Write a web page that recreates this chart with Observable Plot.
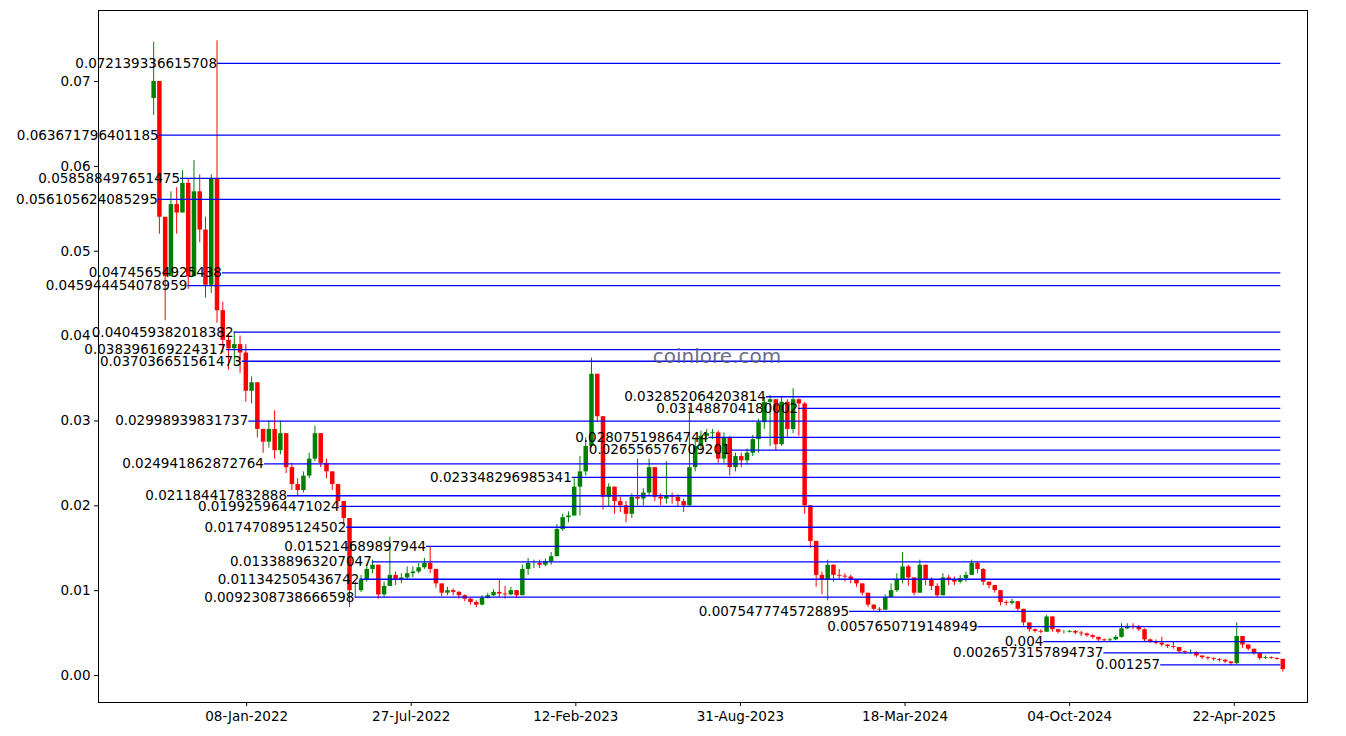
<!DOCTYPE html>
<html>
<head>
<meta charset="utf-8">
<script src="https://cdn.jsdelivr.net/npm/d3@7"></script>
<script src="https://cdn.jsdelivr.net/npm/@observablehq/plot@0.6"></script>
<style>
  html, body { margin: 0; padding: 0; background: #fff; }
  #chart { width: 1346px; height: 736px; }
  svg { font-family: "DejaVu Sans", sans-serif; }
</style>
</head>
<body>
<div id="chart"></div>
<script>
// ---- Data (weekly candles) ----
const firstDate = "2021-09-17";
const firstOpen = 0.0680;
const closes = [
  0.0700,0.0540,0.0470,0.0555,0.0545,0.0580,0.0470,0.0570,0.0525,0.0460,
  0.0585,0.0430,0.0395,0.0385,0.0390,0.0380,0.0335,0.0345,0.0290,0.0275,
  0.0290,0.0265,0.0285,0.0245,0.0225,0.0218,0.0235,0.0255,0.0285,0.0250,
  0.0240,0.0225,0.0205,0.0185,0.0100,0.0100,0.0112,0.0125,0.0130,0.0095,
  0.0105,0.0118,0.0112,0.0115,0.0120,0.0122,0.0127,0.0132,0.0125,0.0108,
  0.0097,0.0100,0.0098,0.0094,0.0090,0.0086,0.0083,0.0091,0.0094,0.0098,
  0.0096,0.0095,0.0100,0.0094,0.0125,0.0132,0.0132,0.0130,0.0134,0.0140,
  0.0172,0.0186,0.0188,0.0222,0.0240,0.0270,0.0355,0.0305,0.0210,0.0222,
  0.0205,0.0200,0.0190,0.0210,0.0208,0.0215,0.0245,0.0210,0.0208,0.0212,
  0.0210,0.0205,0.0200,0.0245,0.0270,0.0282,0.0285,0.0286,0.0255,0.0280,
  0.0245,0.0258,0.0253,0.0262,0.0278,0.0298,0.0322,0.0325,0.0272,0.0322,
  0.0290,0.0325,0.0320,0.0200,0.0158,0.0118,0.0112,0.0130,0.0118,0.0117,
  0.0116,0.0113,0.0108,0.0097,0.0083,0.0078,0.0077,0.0092,0.0100,0.0112,
  0.0128,0.0115,0.0097,0.0130,0.0112,0.0105,0.0094,0.0115,0.0112,0.0110,
  0.0114,0.0118,0.0132,0.0125,0.0110,0.0106,0.0100,0.0086,0.0085,0.0087,
  0.0078,0.0062,0.0054,0.0052,0.0051,0.0069,0.0054,0.0051,0.0051,0.0052,
  0.0050,0.0049,0.0047,0.0045,0.0042,0.0041,0.0042,0.0045,0.0055,0.0058,
  0.0057,0.0054,0.0042,0.0040,0.0038,0.0036,0.0034,0.0033,0.0028,0.0027,
  0.0027,0.0023,0.0021,0.0020,0.0019,0.0018,0.0016,0.0014,0.0046,0.0036,
  0.0031,0.0026,0.0020,0.0021,0.0020,0.0019,0.0007
];
const highs = [
  0.0746,0.0700,0.0520,0.0570,0.0575,0.0595,0.0585,0.0607,0.0590,0.0540,
  0.0590,0.0748,0.0440,0.0403,0.0405,0.0400,0.0390,0.0352,0.0345,0.0290,
  0.0300,0.0312,0.0300,0.0285,0.0250,0.0232,0.0240,0.0262,0.0294,0.0280,
  0.0255,0.0240,0.0225,0.0200,0.0175,0.0110,0.0118,0.0130,0.0136,0.0130,
  0.0110,0.0163,0.0122,0.0120,0.0128,0.0128,0.0132,0.0138,0.0151,0.0125,
  0.0108,0.0104,0.0102,0.0099,0.0095,0.0091,0.0088,0.0094,0.0097,0.0101,
  0.0112,0.0105,0.0104,0.0100,0.0130,0.0138,0.0136,0.0136,0.0137,0.0145,
  0.0178,0.0190,0.0193,0.0232,0.0258,0.0280,0.0374,0.0350,0.0305,0.0226,
  0.0218,0.0210,0.0205,0.0214,0.0255,0.0220,0.0255,0.0240,0.0214,0.0252,
  0.0215,0.0213,0.0208,0.0316,0.0280,0.0288,0.0290,0.0290,0.0288,0.0286,
  0.0282,0.0262,0.0262,0.0267,0.0283,0.0302,0.0328,0.0330,0.0325,0.0328,
  0.0325,0.0338,0.0326,0.0322,0.0175,0.0150,0.0122,0.0136,0.0125,0.0125,
  0.0120,0.0118,0.0113,0.0108,0.0097,0.0083,0.0080,0.0095,0.0108,0.0120,
  0.0145,0.0130,0.0115,0.0136,0.0128,0.0115,0.0108,0.0120,0.0118,0.0116,
  0.0118,0.0122,0.0136,0.0134,0.0126,0.0110,0.0106,0.0100,0.0088,0.0090,
  0.0087,0.0078,0.0060,0.0055,0.0054,0.0071,0.0066,0.0054,0.0053,0.0053,
  0.0053,0.0052,0.0050,0.0048,0.0045,0.0043,0.0044,0.0047,0.0061,0.0061,
  0.0061,0.0059,0.0055,0.0043,0.0042,0.0045,0.0036,0.0039,0.0033,0.0029,
  0.0030,0.0028,0.0023,0.0022,0.0021,0.0020,0.0019,0.0016,0.0062,0.0046,
  0.0036,0.0031,0.0026,0.0023,0.0022,0.0021,0.0019
];
const lows = [
  0.0660,0.0520,0.0418,0.0470,0.0520,0.0550,0.0455,0.0490,0.0510,0.0445,
  0.0450,0.0415,0.0380,0.0360,0.0365,0.0356,0.0322,0.0320,0.0280,0.0262,
  0.0268,0.0255,0.0260,0.0238,0.0218,0.0212,0.0215,0.0232,0.0252,0.0245,
  0.0232,0.0218,0.0198,0.0178,0.0080,0.0092,0.0098,0.0110,0.0120,0.0090,
  0.0092,0.0105,0.0106,0.0108,0.0112,0.0115,0.0120,0.0125,0.0120,0.0103,
  0.0093,0.0094,0.0094,0.0090,0.0087,0.0083,0.0080,0.0082,0.0090,0.0093,
  0.0092,0.0090,0.0094,0.0091,0.0094,0.0118,0.0126,0.0126,0.0128,0.0130,
  0.0140,0.0170,0.0180,0.0188,0.0188,0.0235,0.0268,0.0298,0.0195,0.0198,
  0.0190,0.0192,0.0180,0.0185,0.0200,0.0200,0.0212,0.0205,0.0200,0.0202,
  0.0202,0.0198,0.0192,0.0200,0.0240,0.0265,0.0278,0.0278,0.0250,0.0250,
  0.0235,0.0240,0.0245,0.0248,0.0258,0.0262,0.0290,0.0270,0.0265,0.0270,
  0.0280,0.0285,0.0282,0.0190,0.0150,0.0104,0.0095,0.0088,0.0110,0.0112,
  0.0110,0.0108,0.0104,0.0094,0.0080,0.0076,0.0075,0.0077,0.0092,0.0098,
  0.0108,0.0105,0.0094,0.0097,0.0106,0.0100,0.0092,0.0094,0.0106,0.0106,
  0.0108,0.0110,0.0118,0.0120,0.0106,0.0102,0.0097,0.0082,0.0082,0.0083,
  0.0074,0.0058,0.0051,0.0050,0.0049,0.0051,0.0051,0.0049,0.0049,0.0050,
  0.0048,0.0046,0.0045,0.0043,0.0040,0.0040,0.0040,0.0041,0.0044,0.0054,
  0.0054,0.0052,0.0040,0.0038,0.0036,0.0034,0.0032,0.0031,0.0026,0.0025,
  0.0025,0.0021,0.0019,0.0018,0.0017,0.0016,0.0014,0.0012,0.0013,0.0032,
  0.0029,0.0024,0.0018,0.0019,0.0019,0.0018,0.0004
];

// Support / resistance levels: label text and the date where each line begins
const levelLabels = [
  "0.072139336615708","0.063671796401185","0.058588497651475","0.056105624085295",
  "0.04745654925438","0.045944454078959","0.040459382018382","0.038396169224317",
  "0.037036651561473","0.032852064203814","0.031488704180002","0.02998939831737",
  "0.02807519864744","0.026556576709201","0.024941862872764","0.023348296985341",
  "0.021184417832888","0.019925964471024","0.017470895124502","0.015214689897944",
  "0.013388963207047","0.011342505436742","0.0092308738666598","0.0075477745728895",
  "0.0057650719148949","0.004","0.0026573157894737","0.001257"
];
const levelStarts = [
  "2021-12-03","2021-09-23","2021-10-19","2021-09-22",
  "2021-12-09","2021-10-28","2021-12-23","2021-12-14",
  "2022-01-02","2023-10-01","2023-11-09","2022-01-10",
  "2023-07-23","2023-08-19","2022-01-29","2023-02-07",
  "2022-02-26","2022-05-01","2022-05-09","2022-08-14",
  "2022-06-09","2022-05-25","2022-05-19","2024-01-10",
  "2024-06-14","2024-09-02","2024-11-14","2025-01-22"
];
const levelEnd = "2025-06-17";

const xTickDates = ["2022-01-08","2022-07-27","2023-02-12","2023-08-31","2024-03-18","2024-10-04","2025-04-22"];
const yTickValues = [0, 0.01, 0.02, 0.03, 0.04, 0.05, 0.06, 0.07];
const xDomain = ["2021-07-12", "2025-07-20"];
const yDomain = [-0.00318, 0.07837];
const watermark = "coinlore.com";

// ---- Build tables ----
const parse = d3.utcParse("%Y-%m-%d");
const start = parse(firstDate);
const candles = closes.map((c, i) => {
  const open = i === 0 ? firstOpen : closes[i - 1];
  return {
    date: d3.utcDay.offset(start, 7 * i),
    open, close: c,
    high: Math.max(highs[i], open, c),
    low: Math.min(lows[i], open, c),
    up: c >= open
  };
});
const levels = levelLabels.map((t, i) => ({
  label: t, value: +t, start: parse(levelStarts[i]), end: parse(levelEnd)
}));

const colorOf = d => d.up ? "#008000" : "#ff0000";

const chart = Plot.plot({
  width: 1346,
  height: 736,
  marginLeft: 98,
  marginRight: 39,
  marginTop: 10,
  marginBottom: 34,
  style: { fontFamily: "DejaVu Sans, sans-serif", fontSize: "13.5px", color: "#000", background: "#fff" },
  x: { type: "utc", domain: xDomain.map(parse), label: null },
  y: { domain: yDomain, label: null },
  marks: [
    Plot.axisX({ ticks: xTickDates.map(parse), tickFormat: d3.utcFormat("%d-%b-%Y"), label: null, tickSize: 4, tickPadding: 5, fontSize: 13.5 }),
    Plot.axisY({ ticks: yTickValues, tickFormat: d3.format(".2f"), label: null, tickSize: 4, tickPadding: 4, fontSize: 13.5 }),
    Plot.ruleX(candles, { x: "date", y1: "low", y2: "high", stroke: colorOf, strokeWidth: 1 }),
    Plot.ruleX(candles, { x: "date", y1: "open", y2: "close", stroke: colorOf, strokeWidth: 4.5 }),
    Plot.link(levels, { x1: "start", x2: "end", y1: "value", y2: "value", stroke: "#0000ff", strokeWidth: 1.3 }),
    Plot.text(levels, { x: "start", y: "value", text: "label", textAnchor: "end", fill: "#000", fontSize: 13.5 }),
    Plot.text([watermark], { frameAnchor: "middle", dx: 14, text: d => d, fill: "#5a5a78", fontSize: 20, fillOpacity: 0.9 }),
    Plot.frame({ stroke: "#000", strokeWidth: 1 })
  ]
});
document.getElementById("chart").appendChild(chart);
</script>
</body>
</html>
